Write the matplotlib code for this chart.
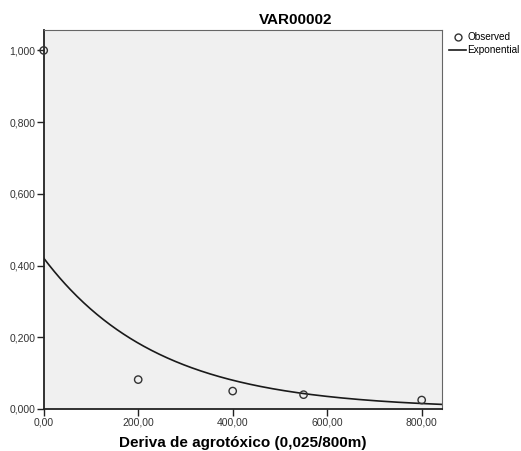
import numpy as np
import matplotlib
matplotlib.use('Agg')
import matplotlib.pyplot as plt
from matplotlib.lines import Line2D
from matplotlib.ticker import FuncFormatter

plt.rcParams['font.family'] = ['Liberation Sans', 'DejaVu Sans']

# observed data
deriva = [0, 200, 400, 550, 800]
var00002 = [1.0, 0.082, 0.050, 0.040, 0.025]
x_ticks = [0, 200, 400, 600, 800]
y_ticks = [0.0, 0.2, 0.4, 0.6, 0.8, 1.0]

# exponential fit y = a*exp(b*x) (log-linear least squares, like SPSS curve estimation)
b, ln_a = np.polyfit(deriva, np.log(var00002), 1)
xs = np.linspace(0, 843, 300)
ys = np.exp(ln_a) * np.exp(b * xs)

fig = plt.figure(figsize=(5.21, 4.51), dpi=100)
W, H = 521, 451
ax = fig.add_axes([43.7 / W, 1 - 409 / H, (442 - 43.7) / W, (409 - 30) / H])
ax.set_facecolor('#f0f0f0')

ax.plot(xs, ys, color='#1a1a1a', lw=1.2)
ax.scatter(deriva, var00002, s=28, facecolors='none', edgecolors='#333333', linewidths=1.0, zorder=3, clip_on=False)

ax.set_xlim(0, 843)
ax.set_ylim(0, 1.057)
ax.set_xticks(x_ticks)
ax.set_yticks(y_ticks)
ax.xaxis.set_major_formatter(FuncFormatter(lambda v, p: ('%.2f' % v).replace('.', ',')))
ax.yaxis.set_major_formatter(FuncFormatter(lambda v, p: ('%.3f' % v).replace('.', ',')))
ax.tick_params(axis='both', direction='out', length=5, width=1, labelsize=7.5, color='#222222', labelcolor='#333333', pad=1)
ax.tick_params(top=False, right=False)
for side in ['left', 'bottom']:
    ax.spines[side].set_linewidth(1.3)
    ax.spines[side].set_color('#222222')
for side in ['top', 'right']:
    ax.spines[side].set_linewidth(0.8)
    ax.spines[side].set_color('#666666')

ax.set_xlabel('Deriva de agrotóxico (0,025/800m)', fontsize=11, fontweight='bold', labelpad=6)
fig.text(296 / W, 1 - 20 / H, 'VAR00002', ha='center', va='center', fontsize=11, fontweight='bold')

handles = [Line2D([], [], marker='o', ls='none', markerfacecolor='none', markeredgecolor='#333333', markersize=5),
           Line2D([], [], color='#1a1a1a', lw=1.2)]
fig.legend(handles, ['Observed', 'Exponential'], loc='upper left', bbox_to_anchor=(449 / W, 1 - 32 / H),
           frameon=False, fontsize=7.2, handlelength=1.7, handletextpad=0.1, labelspacing=0.3, borderpad=0, borderaxespad=0)

fig.savefig('out.png', dpi=100)
